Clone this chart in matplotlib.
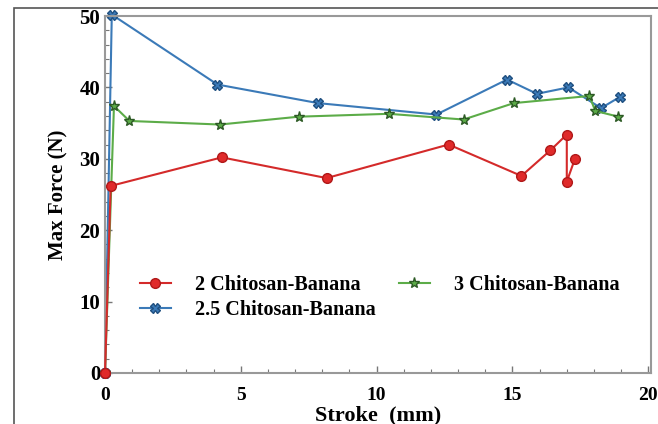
import matplotlib
matplotlib.use("Agg")
import matplotlib.pyplot as plt
from matplotlib.patches import Rectangle
from matplotlib.ticker import MultipleLocator

plt.rcParams['font.family'] = ['Liberation Serif', 'DejaVu Serif']
plt.rcParams['font.weight'] = 'bold'

x_2 = [0.0, 0.21, 4.3, 8.16, 12.65, 15.33, 16.4, 17.0, 17.0, 17.3]
y_2 = [0.0, 26.2, 30.2, 27.3, 32.0, 27.6, 31.2, 33.4, 26.8, 30.0]

x_25 = [0.0, 0.25, 4.14, 7.84, 12.2, 14.8, 15.9, 17.06, 18.26, 18.97]
y_25 = [0.0, 50.2, 40.4, 37.8, 36.2, 41.1, 39.1, 40.0, 37.1, 38.7]

x_3 = [0.0, 0.33, 0.9, 4.23, 7.14, 10.45, 13.2, 15.05, 17.83, 18.05, 18.9]
y_3 = [0.0, 37.4, 35.3, 34.8, 35.9, 36.3, 35.5, 37.8, 38.8, 36.7, 35.9]

labels = ["2 Chitosan-Banana", "2.5 Chitosan-Banana", "3 Chitosan-Banana"]

fig = plt.figure(figsize=(6.58, 4.24), dpi=100)
fig.patches.append(Rectangle((14/658, -0.1), 2.0, 1.1 - 8/424, transform=fig.transFigure,
                             fill=False, edgecolor='#555555', linewidth=1.2, zorder=-1))
ax = fig.add_axes([105/658, 51/424, 546/658, 357/424])

ax.plot(x_2, y_2, color='#d42a2a', lw=1.5, marker='o', ms=7,
        mfc='#e02a2a', mec='#b01818', label=labels[0], clip_on=False, zorder=3)
ax.plot(x_25, y_25, color='#3b7ab8', lw=1.5, marker='X', ms=7,
        mfc='#3b7ab8', mec='#1f4f80', label=labels[1], clip_on=False, zorder=2)
ax.plot(x_3, y_3, color='#5cac48', lw=1.5, marker='*', ms=8,
        mfc='#5cac48', mec='#2d5a25', label=labels[2], clip_on=False, zorder=2)

ax.set_xlim(0, 20.1)
ax.set_ylim(0, 50)
ax.xaxis.set_major_locator(MultipleLocator(5))
ax.xaxis.set_minor_locator(MultipleLocator(1))
ax.yaxis.set_major_locator(MultipleLocator(10))
ax.yaxis.set_minor_locator(MultipleLocator(2))
ax.tick_params(which='both', direction='in', color='#777777', labelsize=14)
ax.tick_params(axis='y', labelsize=15)
ax.tick_params(axis='x', which='major', pad=10)
ax.tick_params(which='major', length=5, width=1)
ax.tick_params(which='minor', length=3, width=0.8)
for s in ax.spines.values():
    s.set_color('#999999')
    s.set_linewidth(1.5)
for t in ax.get_xticklabels() + ax.get_yticklabels():
    t.set_fontweight('bold')

ax.set_xlabel("Stroke  (mm)", fontsize=16, fontweight='bold', labelpad=1)
ax.set_ylabel("Max Force (N)", fontsize=15, fontweight='bold', labelpad=8)

ax.legend(loc='upper left', bbox_to_anchor=(0.03, 0.325), ncol=2, frameon=False,
          prop={'family': 'Liberation Serif', 'weight': 'bold', 'size': 14.5},
          handlelength=1.55, columnspacing=1.15, labelspacing=0.25, handletextpad=1.2)

fig.savefig("out.png", dpi=100)
